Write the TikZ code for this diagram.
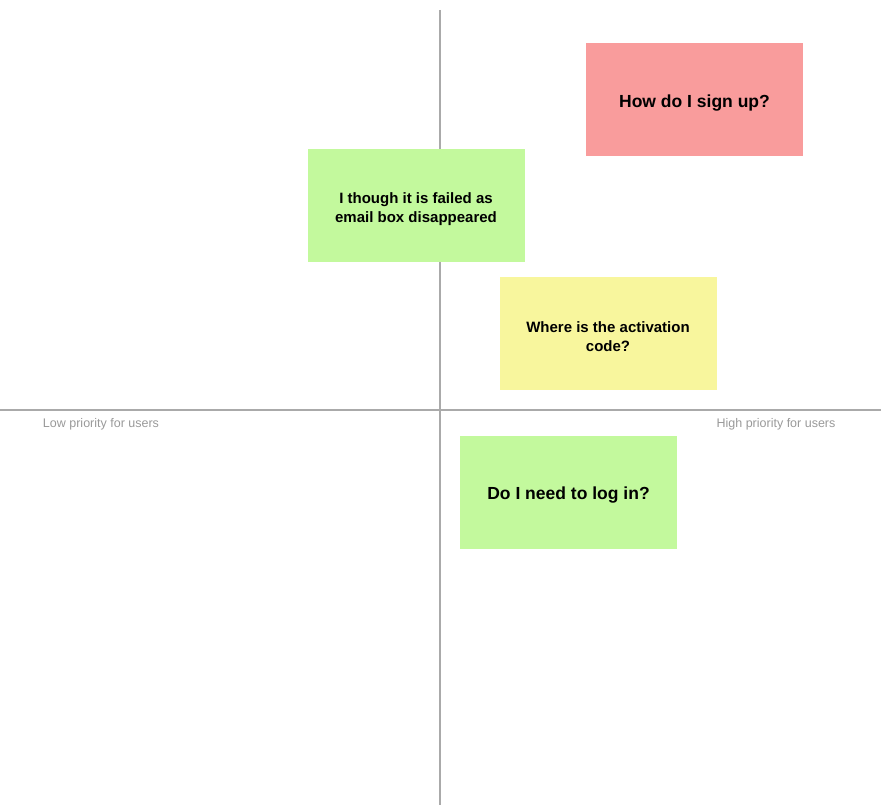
\documentclass[tikz,border=0pt]{standalone}
\usepackage{fontspec}
\setmainfont{Liberation Sans}

\definecolor{stickyred}{HTML}{F99C9C}
\definecolor{stickygreen}{HTML}{C3F99D}
\definecolor{stickyyellow}{HTML}{F8F69D}
\definecolor{axisgray}{HTML}{AAAAAA}
\definecolor{labelgray}{HTML}{999999}

\tikzset{
  sticky/.style={minimum width=217pt, minimum height=113pt, inner sep=0pt,
    align=center, text height=37pt, font=\bfseries\fontsize{15}{19}\selectfont},
  bigtext/.style={text height=19pt, font=\bfseries\fontsize{17.5}{21}\selectfont},
  axisline/.style={draw=axisgray, line width=1.3pt},
  axislabel/.style={text=labelgray, font=\fontsize{12.5}{15}\selectfont}
}

\begin{document}
\begin{tikzpicture}[x=1pt, y=-1pt]

        \useasboundingbox (0,0) rectangle (881,805);

        % --- Assi ---
        \coordinate (top) at (440,10);
        \coordinate (bottom) at (440,805);
        \coordinate (left) at (0,410);
        \coordinate (right) at (881,410);
        \draw[axisline] (top) -- (bottom);
        \draw[axisline] (left) -- (right);

        \node[axislabel] (low) at (101,424) {Low priority for users};
        \node[axislabel] (high) at (776,424) {High priority for users};

        % --- Note ---
        \node[sticky, bigtext, fill=stickyred] (signup) at (694.5,99.5) {How do I sign up?};
        \node[sticky, fill=stickygreen] (failed) at (416,205.5) {I though it is failed as\\email box disappeared};
        \node[sticky, fill=stickyyellow] (code) at (608,333) {Where is the activation\\code?};
        \node[sticky, bigtext, fill=stickygreen] (login) at (568.5,492) {Do I need to log in?};

\end{tikzpicture}
\end{document}
